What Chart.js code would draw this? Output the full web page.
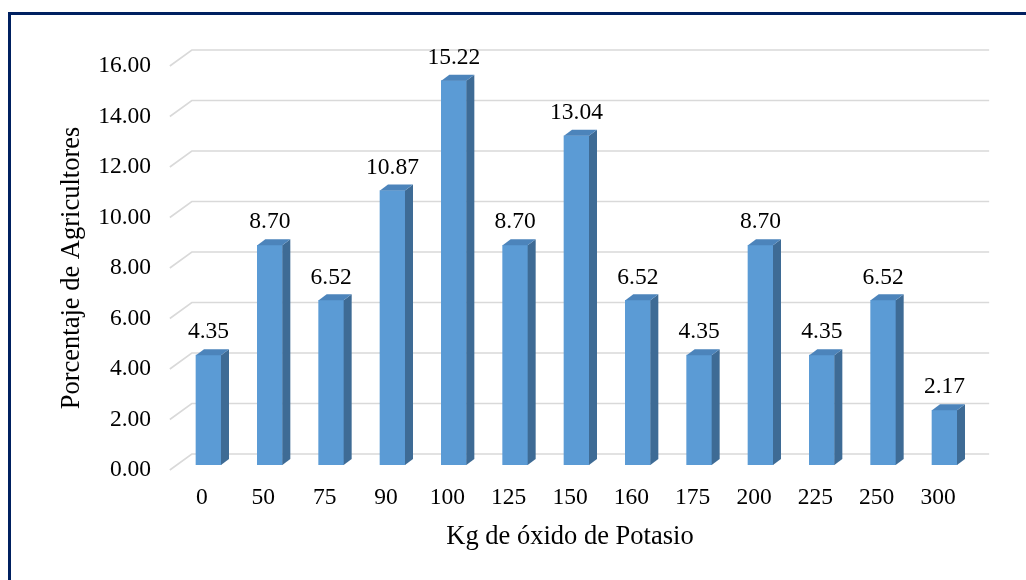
<!DOCTYPE html>
<html>
<head>
<meta charset="utf-8">
<script src="https://cdn.jsdelivr.net/npm/chart.js@4.4.1/dist/chart.umd.min.js"></script>
<style>
  html, body { margin: 0; padding: 0; background: #fff; overflow: hidden; }
  #wrap { position: relative; width: 1026px; height: 580px; }
  #frame {
    position: absolute; left: 8px; top: 12px; width: 1200px; height: 800px;
    border-left: 3px solid #002060; border-top: 3px solid #002060;
  }
  canvas { position: absolute; left: 0; top: 0; }
</style>
</head>
<body>
<div id="wrap">
  <div id="frame"></div>
  <canvas id="chart" width="1026" height="580"></canvas>
</div>
<script>
// Dosis de K2O aplicada y porcentaje de agricultores en cada dosis
const categories = ['0', '50', '75', '90', '100', '125', '150', '160', '175', '200', '225', '250', '300'];
const percentages = [4.35, 8.70, 6.52, 10.87, 15.22, 8.70, 13.04, 6.52, 4.35, 8.70, 4.35, 6.52, 2.17];
const yMin = 0;
const yMax = 16;
const yStep = 2;

const FONT = "'Liberation Serif', 'Times New Roman', serif";
const FRONT = '#5B9BD5';
const SIDE = '#3E6B95';
const TOP = '#4C84BB';

// Perspective offsets of the pseudo-3D look
const FLOOR_DX = 22, FLOOR_DY = 16;   // floor depth (front edge -> back wall)
const SHIFT_X = 6.5, SHIFT_Y = 5;     // bar front face sits slightly inside the floor
const BAR_DX = 8, BAR_DY = 6;         // bar depth

const bars3d = {
  id: 'bars3d',
  beforeDatasetsDraw(chart) {
    const { ctx, chartArea, scales: { y } } = chart;
    ctx.save();
    ctx.strokeStyle = '#d9d9d9';
    ctx.lineWidth = 1.6;
    y.ticks.forEach(t => {
      const py = y.getPixelForValue(t.value);
      const x0 = chartArea.left - 1.5;
      ctx.beginPath();
      ctx.moveTo(x0, py);
      ctx.lineTo(x0 + FLOOR_DX, py - FLOOR_DY);
      ctx.lineTo(chartArea.right + 20.5, py - FLOOR_DY);
      ctx.stroke();
    });
    ctx.restore();
    ctx.save();
    ctx.translate(SHIFT_X, -SHIFT_Y);
  },
  afterDatasetsDraw(chart) {
    const ctx = chart.ctx;
    const meta = chart.getDatasetMeta(0);
    const values = chart.data.datasets[0].data;
    meta.data.forEach((bar, i) => {
      const { x, y, base, width } = bar.getProps(['x', 'y', 'base', 'width'], true);
      const l = x - width / 2, r = x + width / 2;
      // right side face
      ctx.fillStyle = SIDE;
      ctx.beginPath();
      ctx.moveTo(r, y);
      ctx.lineTo(r + BAR_DX, y - BAR_DY);
      ctx.lineTo(r + BAR_DX, base - BAR_DY);
      ctx.lineTo(r, base);
      ctx.closePath();
      ctx.fill();
      // top face
      ctx.fillStyle = TOP;
      ctx.beginPath();
      ctx.moveTo(l, y);
      ctx.lineTo(l + BAR_DX, y - BAR_DY);
      ctx.lineTo(r + BAR_DX, y - BAR_DY);
      ctx.lineTo(r, y);
      ctx.closePath();
      ctx.fill();
      // value label
      ctx.fillStyle = '#000';
      ctx.font = '23.5px ' + FONT;
      ctx.textAlign = 'center';
      ctx.textBaseline = 'middle';
      ctx.fillText(values[i].toFixed(2), x, y - 23);
    });
    ctx.restore();
  }
};

new Chart(document.getElementById('chart'), {
  type: 'bar',
  data: {
    labels: categories,
    datasets: [{
      data: percentages,
      backgroundColor: FRONT,
      borderWidth: 0,
      barThickness: 25
    }]
  },
  options: {
    responsive: false,
    devicePixelRatio: 1,
    animation: false,
    events: [],
    layout: { padding: { left: 40, top: 66, right: 57.33, bottom: 0 } },
    plugins: { legend: { display: false }, tooltip: { enabled: false } },
    scales: {
      x: {
        offset: true,
        border: { display: false },
        grid: { display: false, drawTicks: false },
        ticks: { color: '#000', font: { family: FONT, size: 23.5 }, padding: 13.4, maxRotation: 0 },
        title: {
          display: true, text: 'Kg de óxido de Potasio', color: '#000',
          font: { family: FONT, size: 26.5 }, padding: { top: 0, bottom: 27.1 }
        },
        afterFit(s) { s.height = 110; }
      },
      y: {
        min: yMin, max: yMax,
        border: { display: false },
        grid: { display: false, drawTicks: false },
        ticks: {
          stepSize: yStep, color: '#000', padding: 20.3,
          font: { family: FONT, size: 23.5 },
          callback: v => Number(v).toFixed(2)
        },
        title: {
          display: true, text: 'Porcentaje de Agricultores', color: '#000',
          font: { family: FONT, size: 26.5 }, padding: { top: 16.1, bottom: 0 }
        },
        afterFit(s) { s.width = 131.33; }
      }
    }
  },
  plugins: [bars3d]
});
</script>
</body>
</html>
